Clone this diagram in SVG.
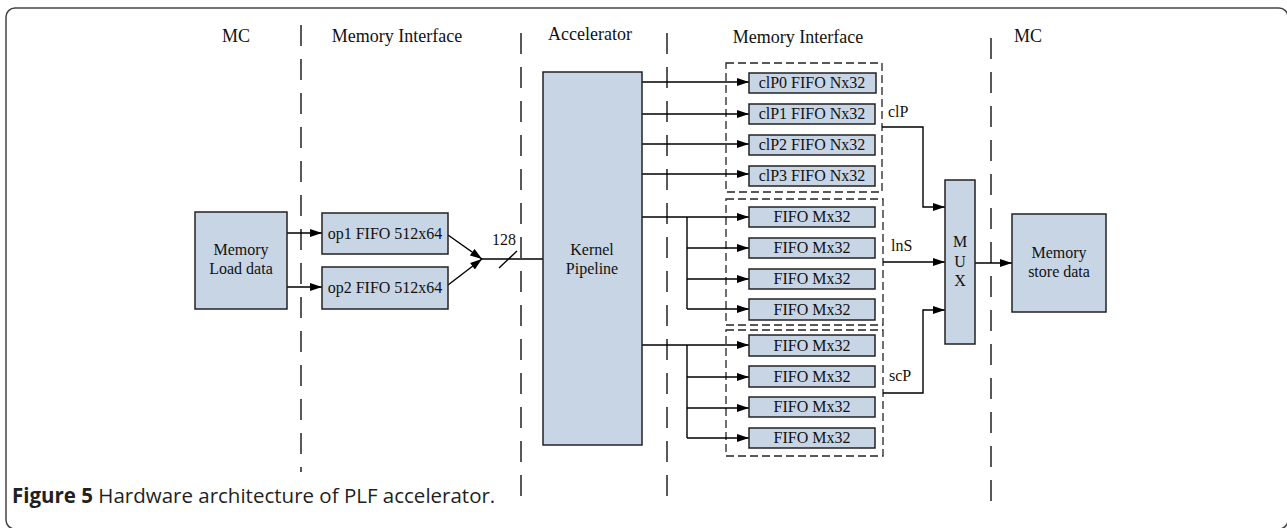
<svg xmlns="http://www.w3.org/2000/svg" width="1287" height="528" viewBox="0 0 1287 528">
<defs>
<marker id="ah" markerWidth="12" markerHeight="8" refX="12" refY="4" orient="auto" markerUnits="userSpaceOnUse">
<path d="M0,0 L12,4 L0,8 Z" fill="#000"/>
</marker>
<style>
.box{fill:#c8d5e5;stroke:#222;stroke-width:1.5}
.t{font-family:"Liberation Serif","Times New Roman",serif;font-size:16px;fill:#111;text-anchor:middle}
.h{font-family:"Liberation Serif","Times New Roman",serif;font-size:18px;fill:#111;text-anchor:middle}
.l{font-family:"Liberation Serif","Times New Roman",serif;font-size:16px;fill:#111}
.sep{stroke:#222;stroke-width:1.5;stroke-dasharray:21 13;fill:none}
.grp{fill:none;stroke:#222;stroke-width:1.3;stroke-dasharray:8 4}
.c{fill:none;stroke:#000;stroke-width:1.4}
.a{fill:none;stroke:#000;stroke-width:1.4;marker-end:url(#ah)}
</style>
</defs>
<rect x="6" y="8" width="1282" height="521" rx="9" fill="#fff" stroke="#444" stroke-width="1.5"/>

<g id="separators">
<line class="sep" x1="301" y1="25" x2="301" y2="472"/>
<line class="sep" x1="521" y1="33" x2="521" y2="505"/>
<line class="sep" x1="667" y1="33" x2="667" y2="505"/>
<line class="sep" x1="991" y1="38" x2="991" y2="505"/>
</g>

<g id="headers">
<text class="h" x="236" y="42">MC</text>
<text class="h" x="397" y="42">Memory Interface</text>
<text class="h" x="590" y="40">Accelerator</text>
<text class="h" x="798" y="43">Memory Interface</text>
<text class="h" x="1028" y="42">MC</text>
</g>

<g id="groups">
<rect class="grp" x="726" y="63" width="156" height="129"/>
<rect class="grp" x="726" y="199" width="157" height="126"/>
<rect class="grp" x="726" y="330" width="157" height="126"/>
</g>

<g id="connectors">
<line class="a" x1="287" y1="233" x2="322" y2="233"/>
<line class="a" x1="287" y1="287" x2="322" y2="287"/>
<line class="a" x1="448" y1="235" x2="482" y2="259"/>
<line class="a" x1="448" y1="285" x2="482" y2="259"/>
<line class="c" x1="482" y1="259" x2="543" y2="259"/>
<line class="c" x1="499" y1="268" x2="517" y2="251"/>
<line class="a" x1="642" y1="82" x2="749" y2="82"/>
<line class="a" x1="642" y1="114" x2="749" y2="114"/>
<line class="a" x1="642" y1="144" x2="749" y2="144"/>
<line class="a" x1="642" y1="174" x2="749" y2="174"/>
<line class="a" x1="642" y1="217" x2="749" y2="217"/>
<polyline class="c" points="687,217 687,309"/>
<line class="a" x1="687" y1="248" x2="749" y2="248"/>
<line class="a" x1="687" y1="279" x2="749" y2="279"/>
<line class="a" x1="687" y1="309" x2="749" y2="309"/>
<line class="a" x1="642" y1="345" x2="749" y2="345"/>
<polyline class="c" points="687,345 687,438"/>
<line class="a" x1="687" y1="377" x2="749" y2="377"/>
<line class="a" x1="687" y1="408" x2="749" y2="408"/>
<line class="a" x1="687" y1="438" x2="749" y2="438"/>
<polyline class="a" points="882,127 923,127 923,207 945,207"/>
<line class="a" x1="883" y1="262" x2="945" y2="262"/>
<polyline class="a" points="883,393 923,393 923,310 945,310"/>
<line class="a" x1="975" y1="263" x2="1012" y2="263"/>
</g>

<g id="labels">
<text class="l" x="492" y="245">128</text>
<text class="l" x="888" y="117">clP</text>
<text class="l" x="891" y="251">lnS</text>
<text class="l" x="889" y="381">scP</text>
</g>

<g id="mem-load">
<rect class="box" x="195" y="212" width="92" height="97"/>
<text class="t" x="241" y="255">Memory</text>
<text class="t" x="241" y="274">Load data</text>
</g>
<g id="op1">
<rect class="box" x="322" y="213" width="126" height="41"/>
<text class="t" x="385" y="239">op1 FIFO 512x64</text>
</g>
<g id="op2">
<rect class="box" x="322" y="267" width="126" height="42"/>
<text class="t" x="385" y="293">op2 FIFO 512x64</text>
</g>
<g id="kernel">
<rect class="box" x="543" y="72" width="99" height="373"/>
<text class="t" x="592" y="255">Kernel</text>
<text class="t" x="592" y="274">Pipeline</text>
</g>
<g id="clp0"><rect class="box" x="749" y="73" width="127" height="20"/><text class="t" x="812" y="88">clP0 FIFO Nx32</text></g>
<g id="clp1"><rect class="box" x="749" y="104" width="126" height="20"/><text class="t" x="812" y="119">clP1 FIFO Nx32</text></g>
<g id="clp2"><rect class="box" x="749" y="135" width="126" height="20"/><text class="t" x="812" y="150">clP2 FIFO Nx32</text></g>
<g id="clp3"><rect class="box" x="749" y="166" width="126" height="20"/><text class="t" x="812" y="181">clP3 FIFO Nx32</text></g>
<g id="lns0"><rect class="box" x="749" y="207" width="126" height="20"/><text class="t" x="812" y="222">FIFO Mx32</text></g>
<g id="lns1"><rect class="box" x="749" y="238" width="126" height="20"/><text class="t" x="812" y="253">FIFO Mx32</text></g>
<g id="lns2"><rect class="box" x="749" y="269" width="126" height="20"/><text class="t" x="812" y="284">FIFO Mx32</text></g>
<g id="lns3"><rect class="box" x="749" y="299" width="126" height="21"/><text class="t" x="812" y="315">FIFO Mx32</text></g>
<g id="scp0"><rect class="box" x="749" y="335" width="126" height="21"/><text class="t" x="812" y="351">FIFO Mx32</text></g>
<g id="scp1"><rect class="box" x="749" y="366" width="126" height="21"/><text class="t" x="812" y="382">FIFO Mx32</text></g>
<g id="scp2"><rect class="box" x="749" y="397" width="126" height="20"/><text class="t" x="812" y="412">FIFO Mx32</text></g>
<g id="scp3"><rect class="box" x="749" y="428" width="126" height="20"/><text class="t" x="812" y="443">FIFO Mx32</text></g>
<g id="mux">
<rect class="box" x="945" y="180" width="30" height="164"/>
<text class="t" x="960" y="247">M</text>
<text class="t" x="960" y="267">U</text>
<text class="t" x="960" y="286">X</text>
</g>
<g id="mem-store">
<rect class="box" x="1012" y="214" width="94" height="98"/>
<text class="t" x="1059" y="258">Memory</text>
<text class="t" x="1059" y="277">store data</text>
</g>
<text x="12" y="503" font-family="'Open Sans','Liberation Sans',sans-serif" font-size="20.5" fill="#231f20"><tspan font-weight="bold">Figure 5</tspan> Hardware architecture of PLF accelerator.</text>
</svg>
